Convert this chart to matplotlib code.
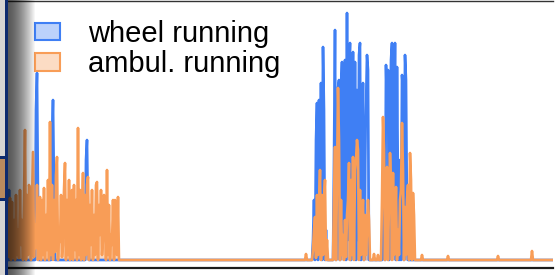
import matplotlib
matplotlib.use('Agg')
import matplotlib.pyplot as plt
from matplotlib.patches import Patch, Rectangle
import numpy as np

plt.rcParams['font.family'] = ['Liberation Sans', 'DejaVu Sans']

# activity counts per time bin; zero outside the bursts
n_bins = 546

wheel_bursts = {
    0: [0, 70, 0],
    27: [0, 150, 187, 60, 0],
    43: [0, 120, 160, 70, 0],
    77: [0, 100, 120, 40, 0],
    304: [0, 20, 60, 0, 120, 157, 0, 160, 10, 177, 0, 213, 150, 0, 30, 0],
    325: [0, 100, 230, 0, 60, 172, 180, 0, 170, 198, 10, 120, 200, 0, 247,
          20, 190, 217, 0, 120, 208, 10, 198, 0, 170, 20, 205, 217, 0, 120,
          177, 0, 100, 150, 205, 190, 0, 0],
    374: [0, 60, 120, 0, 195, 150, 190, 0, 120, 200, 217, 10, 120, 217, 0,
          193, 70, 0, 100, 0, 185, 170, 0, 205, 180, 40, 0],
}

ambul_bursts = {
    0: [55, 3, 62, 0, 58, 3, 40, 0, 65, 5, 30, 2, 70, 15, 40, 0, 60, 130,
        0, 65, 5, 75, 70, 0, 55, 108, 3, 35, 12, 75, 0, 50, 63, 0, 60, 5,
        72, 0, 45, 10, 80, 0, 138, 5, 75, 0, 60, 8, 85, 103, 0, 30, 18,
        65, 3, 15, 70, 97, 0, 60, 5, 80, 0, 50, 70, 0, 75, 10, 60, 0, 132,
        5, 70, 0, 50, 87, 0, 65, 5, 75, 83, 0, 55, 15, 70, 0, 45, 5, 75, 78,
        0, 55, 25, 70, 5, 20, 65, 60, 0, 90, 5, 55, 0, 25, 15, 60, 0, 60,
        20, 5, 63, 0, 0],
    297: [0, 6, 0],
    304: [0, 10, 30, 43, 2, 65, 5, 55, 90, 0, 65, 5, 60, 80, 0, 20, 0],
    325: [0, 60, 113, 0, 80, 172, 120, 0, 60, 5, 25, 0, 40, 3, 45, 60, 97,
          0, 80, 5, 103, 0, 90, 100, 120, 110, 0, 70, 5, 40, 60, 0, 45,
          5, 30, 60, 40, 0],
    365: [0, 6, 0, 0, 0, 5, 0],
    373: [0, 60, 143, 110, 0, 70, 93, 0, 60, 107, 80, 0, 87, 5, 35, 73, 0,
          30, 5, 60, 70, 137, 90, 0, 53, 5, 60, 75, 0, 107, 80, 0, 67, 45, 0],
    413: [0, 5, 0],
    439: [0, 4, 0],
    489: [0, 4, 0],
    523: [0, 9, 0],
}

labels = ['wheel running', 'ambul. running']
colors = ['#3f7ff4', '#f89d57']


def build(bursts):
    v = np.zeros(n_bins)
    for start, vals in bursts.items():
        v[start:start + len(vals)] = vals
    return v


bins = np.arange(n_bins)
series = [build(wheel_bursts), build(ambul_bursts)]

W, H = 556, 275
fig = plt.figure(figsize=(W / 100, H / 100), dpi=100)
ax = fig.add_axes([8 / W, 7 / H, 545 / W, 267 / H])

for v, c in zip(series, colors):
    ax.fill_between(bins, v, color=c, alpha=0.4, lw=0)
    ax.plot(bins, v, color=c, lw=1.9)

ax.set_xlim(0, n_bins - 1)
ax.set_ylim(-8, 259)
ax.set_xticks([])
ax.set_yticks([])
ax.spines['right'].set_visible(False)
ax.spines['left'].set_visible(False)
ax.spines['top'].set_color('#333333')
ax.spines['top'].set_linewidth(1.0)
ax.spines['bottom'].set_color('#1a1a1a')
ax.spines['bottom'].set_linewidth(1.6)

handles = [Patch(facecolor=matplotlib.colors.to_rgba(c, 0.35), edgecolor=c, lw=1.5)
           for c in colors]
ax.legend(handles, labels, loc='upper left', bbox_to_anchor=(35 / W, 1 - 20 / H),
          bbox_transform=fig.transFigure, frameon=False, borderpad=0,
          borderaxespad=0, fontsize=21, handlelength=0.86, handleheight=0.55,
          handletextpad=0.95, labelspacing=0.08)

# window border and shadow on the left edge of the screenshot
def px_rect(x, y, w, h, c):
    fig.add_artist(Rectangle((x / W, 1 - (y + h) / H), w / W, h / H,
                             transform=fig.transFigure, color=c, lw=0, zorder=5))

px_rect(0, 0, 5, H, '#d6d4d2')
px_rect(0, 159, 5, 39, '#b98a5e')
px_rect(4.5, 0, 3.5, H, '#0d2a6e')
px_rect(0, 156, 8, 3, '#0d2a6e')
px_rect(0, 198, 8, 3, '#0d2a6e')

sax = fig.add_axes([8 / W, 0, 28 / W, 1], zorder=6)
s = np.linspace(0, 1, 28)
shade = np.zeros((1, 28, 4))
shade[0, :, 3] = 0.65 * (1 - s ** 1.5)
sax.imshow(shade, aspect='auto', interpolation='bilinear')
sax.axis('off')

fig.savefig('out.png', dpi=100)
